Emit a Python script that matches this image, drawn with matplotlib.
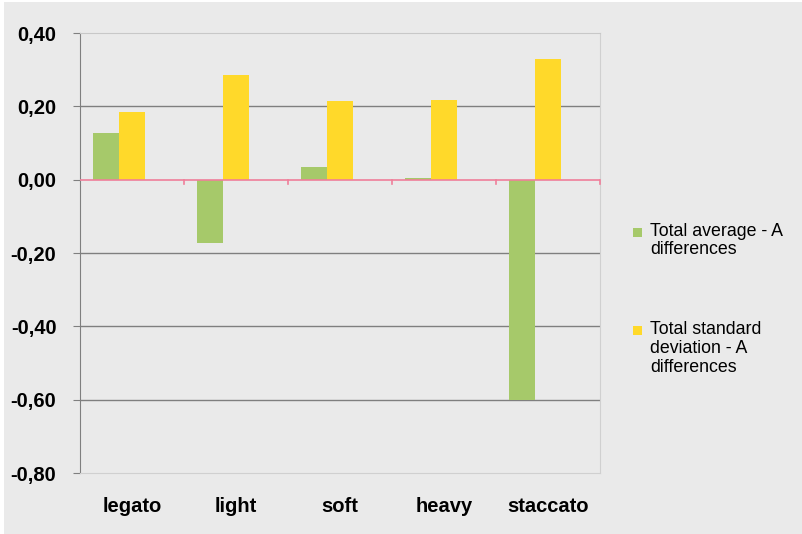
import matplotlib
matplotlib.use("Agg")
import matplotlib.pyplot as plt
from matplotlib.patches import Rectangle
import matplotlib.transforms as mtransforms
import numpy as np

categories = ["legato", "light", "soft", "heavy", "staccato"]
avg_vals = [0.127, -0.172, 0.035, 0.005, -0.600]
std_vals = [0.184, 0.286, 0.215, 0.218, 0.330]
series_names = ["Total average - A\ndifferences", "Total standard\ndeviation - A\ndifferences"]
yticks = [0.40, 0.20, 0.00, -0.20, -0.40, -0.60, -0.80]

bg = "#eaeaea"
green = "#a6c96a"
yellow = "#ffd92a"
pink = "#f07f9a"

plt.rcParams['font.family'] = ['Liberation Sans', 'DejaVu Sans']

fig = plt.figure(figsize=(8.02, 5.34), dpi=100, facecolor="white")
fig.patches.append(Rectangle((4/802, 0), 1, 1 - 2/534, transform=fig.transFigure,
                             facecolor=bg, edgecolor="none", zorder=-10))
ax = fig.add_axes([80/802, 1 - 473/534, 520/802, 440/534])
ax.set_facecolor(bg)

x = np.arange(len(categories))
w = 0.25
# three slots per group (third slot left empty, as in the original)
ax.bar(x - w, avg_vals, w, color=green, zorder=3)
ax.bar(x, std_vals, w, color=yellow, zorder=3)

ax.set_xlim(-0.5, len(categories) - 0.5)
ax.set_ylim(-0.8, 0.4)
ax.set_yticks(yticks)
ax.set_yticklabels([f"{v:.2f}".replace(".", ",") for v in yticks],
                   fontsize=14.5, fontweight="bold")
for v in yticks:
    if v not in (0.0, 0.4, -0.8):
        ax.axhline(v, color="#7f7f7f", lw=1.0, zorder=1)

ax.set_xticks([])
for s in ["top", "right", "bottom"]:
    ax.spines[s].set_color("#d0d0d0")
ax.spines["left"].set_color("#7f7f7f")
ax.spines["top"].set_color("#c8c8c8")
ax.tick_params(axis="y", length=5, color="#7f7f7f", pad=12)

# zero axis in pink with downward ticks at category boundaries
ax.axhline(0, color=pink, lw=1.2, zorder=4)
for b in np.arange(0.5, len(categories), 1.0):
    ax.plot([b, b], [0, -0.012], color=pink, lw=1.2, zorder=4, clip_on=False)

trans = mtransforms.blended_transform_factory(ax.transData, fig.transFigure)
for i, c in enumerate(categories):
    ax.text(i, 1 - 512/534, c, ha="center", va="baseline", fontsize=14.5,
            fontweight="bold", transform=trans)

# legend
fig.patches.append(Rectangle((633/802, 1 - 237/534), 9/802, 9/534,
                             transform=fig.transFigure, facecolor=green, edgecolor="none"))
fig.patches.append(Rectangle((633/802, 1 - 335/534), 9/802, 9/534,
                             transform=fig.transFigure, facecolor=yellow, edgecolor="none"))
fig.text(650/802, 1 - 222.5/534, series_names[0], ha="left", va="top",
         fontsize=12.8, linespacing=1.12)
fig.text(650/802, 1 - 321.5/534, series_names[1], ha="left", va="top",
         fontsize=12.8, linespacing=1.12)

fig.savefig("out.png", dpi=100, facecolor=fig.get_facecolor())
